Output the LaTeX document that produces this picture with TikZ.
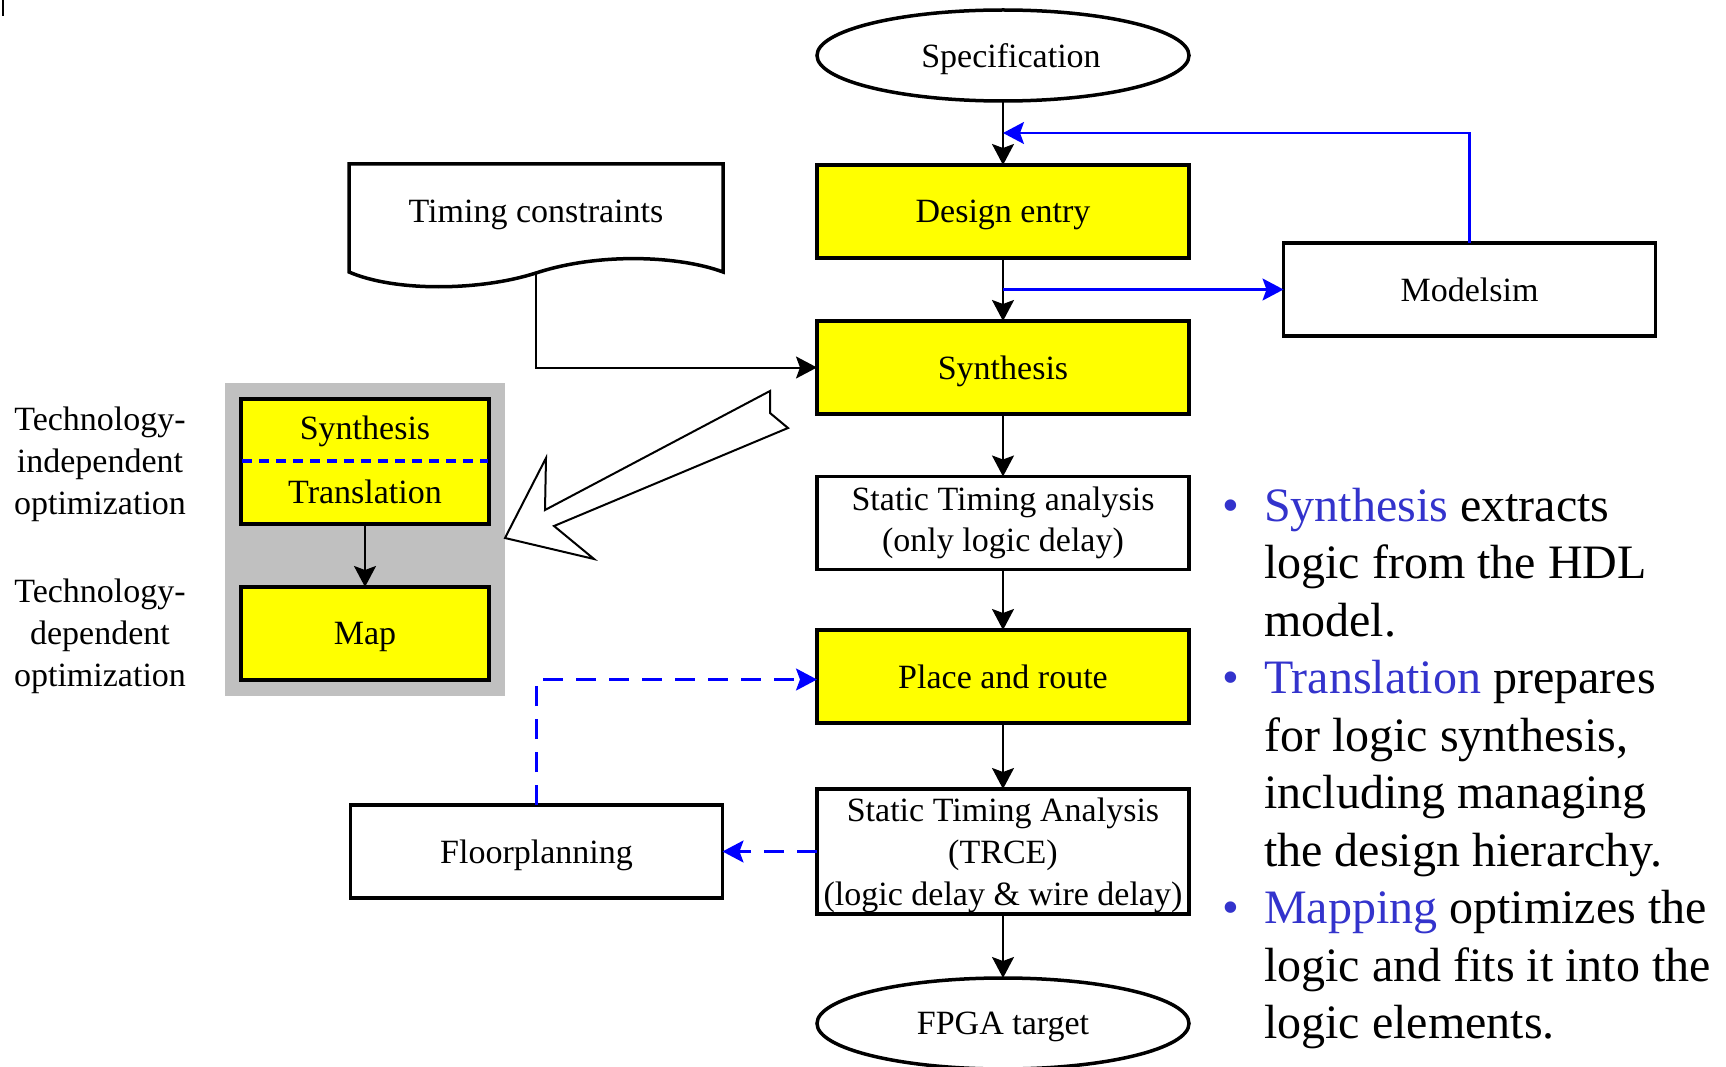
\documentclass[tikz,border=0pt]{standalone}
\usepackage{fontspec}
\setmainfont{Liberation Serif}
\usetikzlibrary{arrows.meta,shapes.geometric}
\definecolor{ylw}{RGB}{255,255,0}
\definecolor{gbox}{RGB}{192,192,192}
\definecolor{txtblue}{RGB}{51,51,204}
\newcommand{\bulmark}{\llap{\textcolor{txtblue}{•}\hspace{24.5pt}}}
\begin{document}
\begin{tikzpicture}[x=1pt,y=-1pt,
  box/.style={draw=black, line width=3.5pt, rectangle, minimum width=372pt, minimum height=93pt,
    inner sep=0pt, outer sep=0pt, align=center, font=\fontsize{34}{41}\selectfont},
  ybox/.style={box, fill=ylw},
  nodep/.style={text depth=0pt},
  ell/.style={draw=black, line width=3.5pt, ellipse, minimum width=372pt, minimum height=91pt,
    inner sep=0pt, outer sep=0pt, font=\fontsize{34}{41}\selectfont},
  conn/.style={line width=2pt, -{Stealth[length=21pt,width=22pt,inset=4pt]}},
  bconn/.style={conn, draw=blue, line width=2.2pt},
  bdash/.style={bconn, dash pattern=on 20pt off 13pt, line width=2.5pt},
  lbl/.style={align=center, inner sep=0pt, font=\fontsize{34}{42}\selectfont},
  btext/.style={anchor=base west, inner sep=0pt, font=\fontsize{48}{57.5}\selectfont},
]
\useasboundingbox (0,0) rectangle (1726,1067);

% stray mark
\draw[line width=2pt] (3,0) -- (3,16);

% gray group
\node[fill=gbox, minimum width=280pt, minimum height=313pt, inner sep=0pt] (grp) at (365,539.5) {};

% main column
\node[ell, nodep] (spec) at (1003,55.5) {\hspace*{16pt}Specification};
\node[ybox, nodep] (de) at (1003,211.5) {Design entry};
\node[ybox, nodep] (syn) at (1003,367.5) {Synthesis};
\node[box] (sta1) at (1003,523) {Static Timing analysis\\(only logic delay)};
\node[ybox] (pr) at (1003,676.5) {Place and route};
\node[box, nodep, minimum height=125pt, font=\fontsize{34}{42}\selectfont] (sta2) at (1003,851.5) {Static Timing Analysis\\(TRCE)\\(logic delay \& wire delay)};
\node[ell, nodep] (fpga) at (1003,1023.5) {FPGA target};

\node[box] (ms) at (1469.5,289.5) {Modelsim};
\node[box, nodep] (fp) at (536.5,851.5) {Floorplanning};

% timing constraints document
\draw[line width=3.5pt, fill=white, line join=miter]
  (349,164) -- (349,272) .. controls (395,292) and (480,291) .. (536,273)
  .. controls (600,252) and (680,256) .. (723,272) -- (723,164) -- cycle;
\node[lbl, nodep] (tc) at (536,211) {Timing constraints};
\coordinate (tcb) at (536,273);

% synthesis/translation box and map
\node[ybox, minimum width=248pt, minimum height=125pt] (st) at (365,461.5) {};
\node[lbl] (stsyn) at (365,431) {Synthesis};
\node[lbl] (sttr) at (365,492) {Translation};
\draw[blue, line width=3.5pt, dash pattern=on 10pt off 7pt] (242,461) -- (488,461);
\node[ybox, nodep, minimum width=248pt, minimum height=93pt] (map) at (365,633.5) {Map};
\draw[conn] (st.south) -- (map.north);

% left labels
\node[lbl, nodep] (tind) at (100,461) {Technology-\\independent\\optimization};
\node[lbl, nodep] (tdep) at (100,633) {Technology-\\dependent\\optimization};

% hollow arrow
\draw[line width=2pt, fill=white, line join=miter]
  (505,538) -- (546,458) -- (545,510) -- (770,391) -- (770,413) -- (788,428)
  -- (554,526) -- (594,559) -- cycle;

% connectors
\draw[conn] (spec) -- (de);
\draw[conn] (de) -- (syn);
\draw[conn] (syn) -- (sta1);
\draw[conn] (sta1) -- (pr);
\draw[conn] (pr) -- (sta2);
\draw[conn] (sta2) -- (fpga);
\draw[conn] (tcb) |- (syn.west);
\coordinate (bj) at (1003,289.5);
\coordinate (bk) at (1003,133);
\draw[bconn] (bj) -- (ms.west);
\draw[bconn] (ms.north) |- (bk);
\draw[bdash] (sta2.west) -- (fp.east);
\draw[bdash] (fp.north) |- ([yshift=-3pt]pr.west);

% bullet text
\node[btext] (b1) at (1264,521) {\bulmark\textcolor{txtblue}{Synthesis} extracts};
\node[btext] (b2) at (1264,578.5) {logic from the HDL};
\node[btext] (b3) at (1264,636) {model.};
\node[btext] (b4) at (1264,693.5) {\bulmark\textcolor{txtblue}{Translation} prepares};
\node[btext] (b5) at (1264,751) {for logic synthesis,};
\node[btext] (b6) at (1264,808.5) {including managing};
\node[btext] (b7) at (1264,866) {the design hierarchy.};
\node[btext] (b8) at (1264,923.5) {\bulmark\textcolor{txtblue}{Mapping} optimizes the};
\node[btext] (b9) at (1264,981) {logic and fits it into the};
\node[btext] (b10) at (1264,1038.5) {logic elements.};
\end{tikzpicture}
\end{document}
